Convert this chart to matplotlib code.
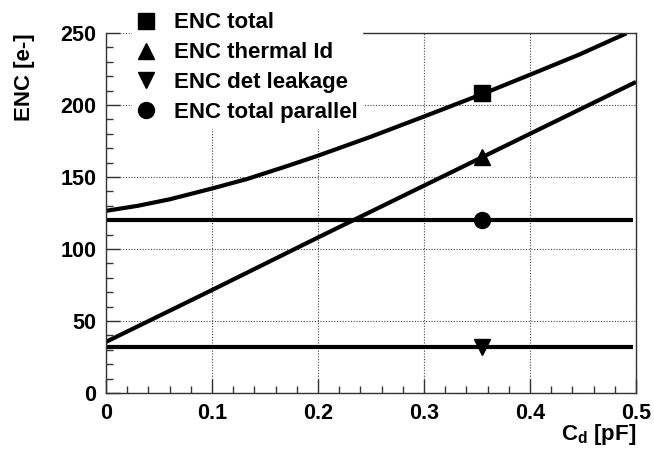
import numpy as np
import matplotlib
matplotlib.use("Agg")
import matplotlib.pyplot as plt

plt.rcParams['font.family'] = ['Liberation Sans', 'DejaVu Sans']
plt.rcParams['font.weight'] = 'bold'
plt.rcParams['axes.labelweight'] = 'bold'
plt.rcParams['mathtext.fontset'] = 'custom'
plt.rcParams['mathtext.rm'] = 'Liberation Sans:bold'
plt.rcParams['mathtext.bf'] = 'Liberation Sans:bold'

# 数据
cd_total = [0.0, 0.03, 0.06, 0.1, 0.133, 0.168, 0.2, 0.25, 0.3, 0.355, 0.4, 0.447, 0.491]
enc_total = [126.5, 130, 134.5, 142, 148.6, 156.9, 164.8, 178, 192, 207.6, 221, 235.2, 249.8]
cd_thermal = [0.0, 0.1, 0.2, 0.3, 0.4, 0.5]
enc_thermal = [35.5, 71.5, 108, 144, 180, 216]
cd_flat = [0.0, 0.497]
enc_leak = [32, 32]
enc_parallel = [120, 120]
marker_x = 0.355
marker_vals = {'total': 208, 'thermal': 164, 'leak': 32, 'parallel': 120}
labels = ['ENC total', 'ENC thermal Id', 'ENC det leakage', 'ENC total parallel']

fig = plt.figure(figsize=(6.54, 4.58), dpi=100)
ax = fig.add_axes([106/654, 65/458, 530/654, 360/458])

lw = 3.0
ax.plot(cd_total, enc_total, color='black', lw=lw, solid_capstyle='butt', solid_joinstyle='round')
ax.plot(cd_thermal, enc_thermal, color='black', lw=lw, solid_capstyle='butt')
ax.plot(cd_flat, enc_parallel, color='black', lw=lw, solid_capstyle='butt')
ax.plot(cd_flat, enc_leak, color='black', lw=lw, solid_capstyle='butt')

ms = 11.5
h1, = ax.plot([marker_x], [marker_vals['total']], 's', color='black', ms=ms, ls='none')
h2, = ax.plot([marker_x], [marker_vals['thermal']], '^', color='black', ms=ms, ls='none')
h3, = ax.plot([marker_x], [marker_vals['leak']], 'v', color='black', ms=ms, ls='none')
h4, = ax.plot([marker_x], [marker_vals['parallel']], 'o', color='black', ms=ms, ls='none')

ax.set_xlim(0, 0.5)
ax.set_ylim(0, 250)
ax.set_xticks(np.arange(0, 0.51, 0.1))
ax.set_xticks(np.arange(0, 0.51, 0.02), minor=True)
ax.set_yticks(np.arange(0, 251, 50))
ax.set_yticks(np.arange(0, 251, 10), minor=True)
ax.set_xticklabels(['0', '0.1', '0.2', '0.3', '0.4', '0.5'])
ax.tick_params(which='both', direction='in', top=False, right=False,
               labelsize=15.5, color='#333333')
ax.tick_params(which='major', length=10, width=1, pad=7)
ax.tick_params(which='minor', length=5, width=1)
ax.grid(True, which='major', ls=(0, (1, 1.5)), color='#444444', lw=0.8)
ax.set_axisbelow(True)
for s in ax.spines.values():
    s.set_color('#333333')
    s.set_linewidth(1)
ax.spines['top'].set_bounds(0.211, 0.5)

ax.set_xlabel(r'C$_{\mathrm{d}}$ [pF]', fontsize=16, loc='right')
ax.xaxis.set_label_coords(1.0, -0.08)
ax.set_ylabel('ENC [e-]', fontsize=16, loc='top')
ax.yaxis.set_label_coords(-0.134, 1.0)

leg = ax.legend([h1, h2, h3, h4], labels, loc='upper left',
                bbox_to_anchor=(132/654, 1 - 8/458), bbox_transform=fig.transFigure,
                fontsize=16, frameon=True, fancybox=False, facecolor='white',
                edgecolor='white', framealpha=1, borderpad=0.2,
                handlelength=0.9, handletextpad=0.8, labelspacing=0.4,
                borderaxespad=0)
leg.set_zorder(10)

plt.savefig('out.png', dpi=100)
